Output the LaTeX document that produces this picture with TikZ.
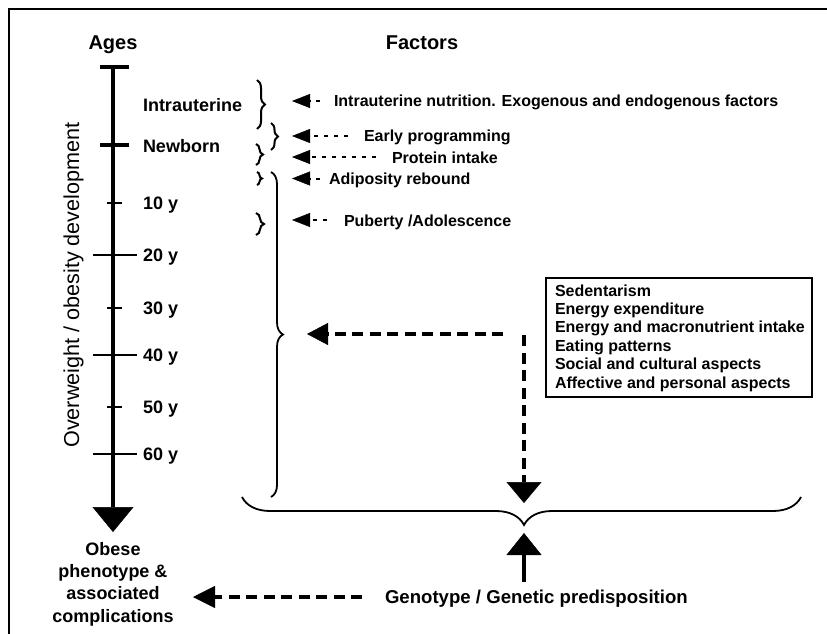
\documentclass[tikz,border=0pt]{standalone}
\usepackage{fontspec}
\setmainfont{Liberation Sans}
\usetikzlibrary{arrows.meta,decorations.pathreplacing}
\begin{document}
\begin{tikzpicture}[x=1pt,y=-1pt,
  every node/.style={inner sep=0pt, outer sep=0pt},
  axlbl/.style={anchor=base west, font=\bfseries\fontsize{18}{21}\selectfont},
  headtxt/.style={anchor=base, font=\bfseries\fontsize{20}{24}\selectfont},
  factor/.style={anchor=base west, font=\bfseries\fontsize{16}{19}\selectfont},
  fline/.style={line width=2pt, dash pattern=on 4.5pt off 5.5pt, -{Triangle[length=18pt,width=14pt,line width=0.5pt]}},
  bigdash/.style={line width=3.8pt, dash pattern=on 11pt off 6.5pt},
  thintick/.style={line width=1.3pt},
  barline/.style={line width=4.5pt},
  sbrace/.style={decorate, decoration={brace, amplitude=#1}, line width=2pt},
]
\useasboundingbox (0,0) rectangle (827,634);
% frame
\draw[line width=1.5pt] (9,634) -- (9,9) -- (827,9);

% titles
\node[headtxt] (ages) at (113,49) {Ages};
\node[headtxt] (factors) at (422,49) {Factors};

% axis
\coordinate (axtop) at (113,65);
\coordinate (axtip) at (113,532);
\draw[line width=4.5pt, -{Triangle[length=25pt,width=41pt,line width=0.5pt]}] (axtop) -- (axtip);
\draw[barline] (100,67) -- (129,67);
\draw[barline] (100,145) -- (129,145);
\draw[thintick] (107,203) -- (122,203);
\draw[thintick] (93,255) -- (137,255);
\draw[thintick] (107,308) -- (122,308);
\draw[thintick] (93,355) -- (137,355);
\draw[thintick] (107,407) -- (122,407);
\draw[thintick] (93,454) -- (137,454);

\node[rotate=90, anchor=base, font=\fontsize{21.6}{26}\selectfont] (ylabel) at (79,285) {Overweight / obesity development};

% axis labels
\node[axlbl] (lintra) at (143,111.7) {Intrauterine};
\node[axlbl] (lnew) at (143,152.5) {Newborn};
\node[axlbl] (l10) at (143,209.5) {10 y};
\node[axlbl] (l20) at (143,261.5) {20 y};
\node[axlbl] (l30) at (143,314.5) {30 y};
\node[axlbl] (l40) at (143,361.5) {40 y};
\node[axlbl] (l50) at (143,413.5) {50 y};
\node[axlbl] (l60) at (143,460.5) {60 y};

% small braces
\draw[sbrace=8pt] (257,80) -- (257,129);
\draw[sbrace=7pt] (271,123) -- (271,150);
\draw[sbrace=7pt] (256,144) -- (256,165);
\draw[sbrace=5pt] (257,172) -- (257,185);
\draw[sbrace=8pt] (256,213) -- (256,235);

% large braces
\draw[decorate, decoration={brace, amplitude=12pt}, line width=1.8pt] (271,172) -- (271,497);
\draw[decorate, decoration={brace, amplitude=28pt, aspect=0.4955}, line width=1.8pt] (801,497) -- (242,497);

% factor texts
\node[factor] (f1) at (334,106.7) {Intrauterine nutrition. Exogenous and endogenous factors};
\node[factor] (f2) at (364,141.7) {Early programming};
\node[factor] (f3) at (392,163) {Protein intake};
\node[factor] (f4) at (329,184) {Adiposity rebound};
\node[factor] (f5) at (344,226) {Puberty /Adolescence};

\coordinate (t1) at (292,101);
\coordinate (t2) at (292,136);
\coordinate (t3) at (292,157);
\coordinate (t4) at (292,178.5);
\coordinate (t5) at (292,220);
\draw[fline, shorten <=14pt] (f1.west |- t1) -- (t1);
\draw[fline, shorten <=16pt] (f2.west |- t2) -- (t2);
\draw[fline, shorten <=16pt] (f3.west |- t3) -- (t3);
\draw[fline, shorten <=9pt] (f4.west |- t4) -- (t4);
\draw[fline, shorten <=17pt] (f5.west |- t5) -- (t5);

% box
\node[draw, line width=1.2pt, anchor=north west, minimum width=266pt, minimum height=119pt] (box) at (546,278) {};
\node[anchor=base west, align=left, font=\bfseries\fontsize{16}{18.4}\selectfont] (boxtext) at (555,388)
  {Sedentarism\\Energy expenditure\\Energy and macronutrient intake\\Eating patterns\\Social and cultural aspects\\Affective and personal aspects};

% dashed arrows from box
\coordinate (hstart) at (503,334);
\coordinate (htip) at (307,334);
\coordinate (vstart) at (524,335);
\coordinate (vtip) at (524,503);
\draw[bigdash, -{Triangle[length=21pt,width=22pt,line width=0.5pt]}] (hstart) -- (htip);
\draw[bigdash, -{Triangle[length=21pt,width=35pt,line width=0.5pt]}] (vstart) -- (vtip);

% bottom
\node[anchor=base, align=center, font=\bfseries\fontsize{18}{22.2}\selectfont] (obese) at (113,622)
  {Obese\\phenotype \&\\associated\\complications};
\node[anchor=base west, font=\bfseries\fontsize{18.6}{22}\selectfont] (geno) at (385,603)
  {Genotype / Genetic predisposition};

\coordinate (ustart) at (524,582);
\coordinate (utip) at (524,533);
\draw[line width=4pt, -{Triangle[length=22pt,width=35pt,line width=0.5pt]}] (ustart) -- (utip);

\coordinate (gstart) at (362,597);
\coordinate (gtip) at (193,597);
\draw[bigdash, -{Triangle[length=22pt,width=22pt,line width=0.5pt]}] (gstart) -- (gtip);
\end{tikzpicture}
\end{document}
